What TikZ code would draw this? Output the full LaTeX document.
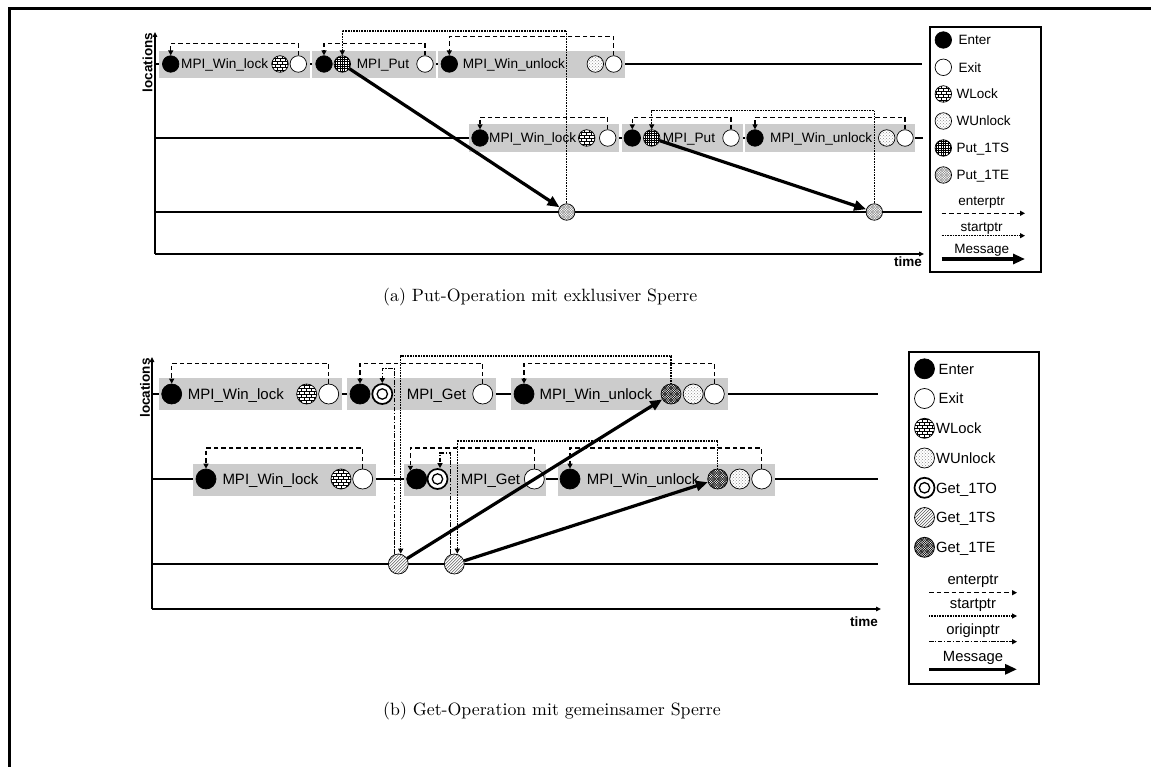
\documentclass[tikz,border=0pt]{standalone}
\usepackage{fontspec}
\usepackage{graphicx}
\setsansfont{Liberation Sans}
\usetikzlibrary{arrows.meta,patterns}
\definecolor{boxgray}{RGB}{204,204,204}

% fill patterns for the event markers, clipped to the marker circle
\newcommand\hatchBricks{%
  \begin{scope}[shift={(path picture bounding box.center)},line width=.45pt]
    \foreach \k in {-4,...,4} \draw (-13,\k*3) -- (13,\k*3);
    \foreach \k/\o in {-4/0,-3/2.5,-2/0,-1/2.5,0/0,1/2.5,2/0,3/2.5}
      \foreach \c in {-15,-10,...,15} \draw (\c+\o,\k*3) -- (\c+\o,\k*3+3);
  \end{scope}}
\newcommand\hatchGrid{%
  \begin{scope}[shift={(path picture bounding box.center)},line width=.45pt]
    \foreach \k in {-6,...,6} {\draw (\k*2.3,-13) -- (\k*2.3,13); \draw (-13,\k*2.3) -- (13,\k*2.3);}
  \end{scope}}
\newcommand\hatchMesh[3]{%
  \begin{scope}[shift={(path picture bounding box.center)},line width=#3,color=#2]
    \foreach \k in {-10,...,10} {\draw (\k*#1-14,-14) -- (\k*#1+14,14); \draw (\k*#1-14,14) -- (\k*#1+14,-14);}
  \end{scope}}
\newcommand\hatchDiag{%
  \begin{scope}[shift={(path picture bounding box.center)},line width=.5pt,color=black!65]
    \foreach \k in {-8,...,8} \draw (\k*3-14,14) -- (\k*3+14,-14);
  \end{scope}}
\newcommand\hatchDots{%
  \fill[pattern=crosshatch dots,pattern color=black!45] (path picture bounding box.south west) rectangle (path picture bounding box.north east);}

\begin{document}
\begin{tikzpicture}[x=1pt,y=-1pt,
  ev/.style={circle,draw=black,line width=.7pt,inner sep=0pt,minimum size=16.5pt,fill=white},
  evb/.style={ev,minimum size=20pt},
  enterev/.style={fill=black},
  wlockev/.style={path picture={\hatchBricks}},
  wunlockev/.style={path picture={\hatchDots}},
  putsev/.style={path picture={\hatchGrid}},
  puteev/.style={path picture={\hatchMesh{2.5}{black!50}{.35pt}}},
  getsev/.style={path picture={\hatchDiag}},
  geteev/.style={path picture={\hatchMesh{2.4}{black}{.45pt}}},
  getoev/.style={line width=1.7pt,path picture={\draw[line width=1.3pt] (path picture bounding box.center) circle[radius=5.2pt];}},
  regbox/.style={fill=boxgray,inner sep=0pt},
  txtA/.style={font=\sffamily\fontsize{13.6}{15}\selectfont,inner sep=0pt,anchor=base west},
  txtB/.style={font=\sffamily\fontsize{15}{17}\selectfont,inner sep=0pt,anchor=base west},
  legA/.style={font=\sffamily\fontsize{13.5}{15}\selectfont,inner sep=0pt,anchor=base west},
  legB/.style={font=\sffamily\fontsize{14.8}{17}\selectfont,inner sep=0pt,anchor=base west},
  axlbl/.style={font=\sffamily\bfseries\fontsize{13.5}{15}\selectfont,inner sep=0pt},
  axis/.style={line width=1.4pt,-{Triangle[length=5pt,width=4.5pt]}},
  tline/.style={line width=1.3pt},
  ptrtip/.style={-{Triangle[length=5pt,width=5pt]}},
  eptr/.style={ptrtip,line width=1.5pt,dash pattern=on 4.5pt off 3pt},
  sptr/.style={ptrtip,line width=1.1pt,dash pattern=on .9pt off .7pt},
  optr/.style={ptrtip,line width=1.5pt,dash pattern=on 4.5pt off 1.6pt on 1.2pt off 1.6pt},
  msg/.style={line width=3.2pt,-{Triangle[length=12pt,width=10pt]}},
  legframe/.style={draw=black,line width=1.3pt,inner sep=0pt},
  caption/.style={inner sep=0pt,anchor=west}
]
\useasboundingbox (0,0) rectangle (1151,767);

% page frame
\coordinate (fr1) at (9.3,767); \coordinate (fr2) at (9.3,8.7); \coordinate (fr3) at (1151,8.7);
\draw[line width=2.6pt] (fr1) -- (fr2) -- (fr3);

%%%%%%%%%%%%%%%%%%%%%%%% (a) put with exclusive lock
\coordinate (aO) at (155,254); \coordinate (aYt) at (155,32); \coordinate (aXt) at (924,254);
\draw[axis] (aO) -- (aYt);
\draw[axis] (aO) -- (aXt);
\node[axlbl,rotate=90] (aLoc) at (147.5,62.5) {locations};
\node[axlbl,anchor=base east] (aTime) at (922,267) {time};

\coordinate (aR1s) at (155,64);  \coordinate (aR1e) at (922,64);
\coordinate (aR2s) at (155,138); \coordinate (aR2e) at (923,138);
\coordinate (aR3s) at (155,212); \coordinate (aR3e) at (922,212);
\draw[tline] (aR1s) -- (aR1e);
\draw[tline] (aR2s) -- (aR2e);
\draw[tline] (aR3s) -- (aR3e);

% regions
\node[regbox,minimum width=151pt,minimum height=27pt] (aB1) at (234.5,64.5) {};
\node[regbox,minimum width=123.7pt,minimum height=27pt] (aB2) at (374.2,64.5) {};
\node[regbox,minimum width=187.3pt,minimum height=27pt] (aB3) at (531.4,64.5) {};
\node[regbox,minimum width=150pt,minimum height=28pt] (aB4) at (544.3,138.5) {};
\node[regbox,minimum width=121pt,minimum height=28pt] (aB5) at (682.2,138.5) {};
\node[regbox,minimum width=170pt,minimum height=28pt] (aB6) at (830,138.5) {};

% location 0
\node[ev,enterev] (aE1) at (170.7,64) {};
\node[txtA] (aN1) at (181,68.8) {MPI\_Win\_lock};
\node[ev,wlockev] (aL1) at (280,64) {};
\node[ev] (aX1) at (298.3,64) {};
\node[ev,enterev] (aE2) at (324,64) {};
\node[ev,putsev] (aS1) at (342.3,64) {};
\node[txtA] (aN2) at (356.7,68.8) {MPI\_Put};
\node[ev] (aX2) at (425,64) {};
\node[ev,enterev] (aE3) at (449.3,64) {};
\node[txtA] (aN3) at (462.7,68.8) {MPI\_Win\_unlock};
\node[ev,wunlockev] (aU1) at (595.3,64) {};
\node[ev] (aX3) at (613.7,64) {};

% location 1
\node[ev,enterev] (aE4) at (480,138) {};
\node[txtA] (aN4) at (489,142.8) {MPI\_Win\_lock};
\node[ev,wlockev] (aL2) at (586.7,138) {};
\node[ev] (aX4) at (607.7,138) {};
\node[ev,enterev] (aE5) at (632.3,138) {};
\node[ev,putsev] (aS2) at (651.7,138) {};
\node[txtA] (aN5) at (662.7,142.8) {MPI\_Put};
\node[ev] (aX5) at (731,138) {};
\node[ev,enterev] (aE6) at (755,138) {};
\node[txtA] (aN6) at (770,142.8) {MPI\_Win\_unlock};
\node[ev,wunlockev] (aU2) at (886.7,138) {};
\node[ev] (aX6) at (905,138) {};

% location 2 (target)
\node[ev,puteev] (aT1) at (566.7,212) {};
\node[ev,puteev] (aT2) at (874.3,212) {};

% pointer levels
\coordinate (lvA1) at (0,43.3);  \coordinate (lvA1u) at (0,36.7); \coordinate (lvA1s) at (0,31);
\coordinate (lvA2) at (0,117.3); \coordinate (lvA2s) at (0,110.7);

\draw[eptr] (aX1.north) -- (aX1.north |- lvA1) -| (aE1.north);
\draw[eptr] (aX2.north) -- (aX2.north |- lvA1) -| (aE2.north);
\draw[eptr] (aX3.north) -- (aX3.north |- lvA1u) -| (aE3.north);
\draw[sptr] (aT1.north) -- (aT1.north |- lvA1s) -| (aS1.north);
\draw[eptr] (aX4.north) -- (aX4.north |- lvA2) -| (aE4.north);
\draw[eptr] (aX5.north) -- (aX5.north |- lvA2) -| (aE5.north);
\draw[eptr] (aX6.north) -- (aX6.north |- lvA2) -| (aE6.north);
\draw[sptr] (aT2.north) -- (aT2.north |- lvA2s) -| (aS2.north);

\draw[msg] (aS1) -- (aT1);
\draw[msg] (aS2) -- (aT2);

% legend (a)
\node[legframe,minimum width=111pt,minimum height=245pt] (aKey) at (985.5,149.5) {};
\node[ev,enterev] (aKe) at (943.3,40) {};     \node[legA] (aKeT) at (958.5,44.8) {Enter};
\node[ev] (aKx) at (943.3,67.3) {};           \node[legA] (aKxT) at (958.5,72.1) {Exit};
\node[ev,wlockev] (aKl) at (943.3,94) {};     \node[legA] (aKlT) at (956.3,98.8) {WLock};
\node[ev,wunlockev] (aKu) at (943.3,121) {};  \node[legA] (aKuT) at (956.3,125.8) {WUnlock};
\node[ev,putsev] (aKs) at (943.3,148) {};     \node[legA] (aKsT) at (956.3,152.8) {Put\_1TS};
\node[ev,puteev] (aKt) at (943.3,175) {};     \node[legA] (aKtT) at (956.3,179.8) {Put\_1TE};
\node[legA,anchor=base] (aKdT) at (981.7,205.5) {enterptr};
\coordinate (aKd1) at (941.7,213.3); \coordinate (aKd2) at (1025,213.3);
\draw[eptr] (aKd1) -- (aKd2);
\node[legA,anchor=base] (aKpT) at (981.7,231.3) {startptr};
\coordinate (aKp1) at (941.7,235.7); \coordinate (aKp2) at (1025,235.7);
\draw[sptr] (aKp1) -- (aKp2);
\node[legA,anchor=base] (aKmT) at (981.7,253.5) {Message};
\coordinate (aKm1) at (941.7,259); \coordinate (aKm2) at (1025,259);
\draw[msg] (aKm1) -- (aKm2);

\node[caption] (capA) at (383,297) {\scalebox{1.78}{(a) Put-Operation mit exklusiver Sperre}};

%%%%%%%%%%%%%%%%%%%%%%%% (b) get with shared lock
\coordinate (bO) at (152,609); \coordinate (bYt) at (152,357); \coordinate (bXt) at (881,609);
\draw[axis] (bO) -- (bYt);
\draw[axis] (bO) -- (bXt);
\node[axlbl,rotate=90] (bLoc) at (145,388) {locations};
\node[axlbl,anchor=base east] (bTime) at (878,626.5) {time};

\coordinate (bR1s) at (152,394); \coordinate (bR1e) at (878,394);
\coordinate (bR2s) at (152,479); \coordinate (bR2e) at (878,479);
\coordinate (bR3s) at (152,564); \coordinate (bR3e) at (878,564);
\draw[tline] (bR1s) -- (bR1e);
\draw[tline] (bR2s) -- (bR2e);
\draw[tline] (bR3s) -- (bR3e);

\node[regbox,minimum width=182.7pt,minimum height=32pt] (bB1) at (250.3,394) {};
\node[regbox,minimum width=148.4pt,minimum height=32pt] (bB2) at (421.5,394) {};
\node[regbox,minimum width=217pt,minimum height=32pt] (bB3) at (619.2,394) {};
\node[regbox,minimum width=182.7pt,minimum height=32pt] (bB4) at (284.7,479.5) {};
\node[regbox,minimum width=141.4pt,minimum height=32pt] (bB5) at (475,479.5) {};
\node[regbox,minimum width=217.3pt,minimum height=32pt] (bB6) at (666.4,479.5) {};

% location 0
\node[evb,enterev] (bE1) at (171.7,394) {};
\node[txtB] (bN1) at (187.7,399.4) {MPI\_Win\_lock};
\node[evb,wlockev] (bL1) at (306.7,394) {};
\node[evb] (bX1) at (328.7,394) {};
\node[evb,enterev] (bE2) at (360,394) {};
\node[evb,getoev] (bO1) at (382.3,394) {};
\node[txtB] (bN2) at (406.7,399.4) {MPI\_Get};
\node[evb] (bX2) at (482.7,394) {};
\node[evb,enterev] (bE3) at (524,394) {};
\node[txtB] (bN3) at (539.3,399.4) {MPI\_Win\_unlock};
\node[evb,geteev] (bT1) at (671,394) {};
\node[evb,wunlockev] (bU1) at (693.2,394) {};
\node[evb] (bX3) at (714.3,394) {};

% location 1
\node[evb,enterev] (bE4) at (206,479) {};
\node[txtB] (bN4) at (222.3,484.4) {MPI\_Win\_lock};
\node[evb,wlockev] (bL2) at (341,479) {};
\node[evb] (bX4) at (362.7,479) {};
\node[evb,enterev] (bE5) at (416.7,479) {};
\node[evb,getoev] (bO2) at (437.5,479) {};
\node[txtB] (bN5) at (460.7,484.4) {MPI\_Get};
\node[evb] (bX5) at (534.3,479) {};
\node[evb,enterev] (bE6) at (570,479) {};
\node[txtB] (bN6) at (586.7,484.4) {MPI\_Win\_unlock};
\node[evb,geteev] (bT2) at (717.7,479) {};
\node[evb,wunlockev] (bU2) at (739.7,479) {};
\node[evb] (bX6) at (761.7,479) {};

% location 2 (origin side)
\node[evb,getsev] (bS1) at (398.3,564) {};
\node[evb,getsev] (bS2) at (454.3,564) {};

\coordinate (lvB1) at (0,363.3); \coordinate (lvB1s) at (0,356); \coordinate (lvB1o) at (0,368.5);
\coordinate (lvB2) at (0,448);   \coordinate (lvB2s) at (0,441); \coordinate (lvB2o) at (0,453);

\draw[eptr] (bX1.north) -- (bX1.north |- lvB1) -| (bE1.north);
\draw[eptr] (bX2.north) -- (bX2.north |- lvB1) -| (bE2.north);
\draw[eptr] (bX3.north) -- (bX3.north |- lvB1) -| (bE3.north);
\draw[sptr] (bT1.north) -- (bT1.north |- lvB1s) -| ([xshift=2.4pt]bS1.north);
\draw[optr] ([xshift=-3.8pt]bS1.north) -- ([xshift=-3.8pt]bS1.north |- lvB1o) -| (bO1.north);

\draw[eptr] (bX4.north) -- (bX4.north |- lvB2) -| (bE4.north);
\draw[eptr] (bX5.north) -- (bX5.north |- lvB2) -| ([xshift=-6.3pt,yshift=-2.2pt]bE5.north);
\draw[eptr] (bX6.north) -- (bX6.north |- lvB2) -| (bE6.north);
\draw[sptr] (bT2.north) -- (bT2.north |- lvB2s) -| ([xshift=3pt]bS2.north);
\draw[optr] ([xshift=-3.8pt]bS2.north) -- ([xshift=-3.8pt]bS2.north |- lvB2o) -| ([xshift=2.5pt]bO2.north);

\draw[msg] (bS1) -- (bT1);
\draw[msg] (bS2) -- (bT2);

% legend (b)
\node[legframe,minimum width=130pt,minimum height=332pt] (bKey) at (974,518) {};
\node[evb,enterev] (bKe) at (924.5,368.8) {};    \node[legB] (bKeT) at (938.5,374.1) {Enter};
\node[evb] (bKx) at (924.5,398.5) {};            \node[legB] (bKxT) at (938.5,403.8) {Exit};
\node[evb,wlockev] (bKl) at (924.5,428.3) {};    \node[legB] (bKlT) at (936,433.6) {WLock};
\node[evb,wunlockev] (bKu) at (924.5,458) {};    \node[legB] (bKuT) at (936,463.3) {WUnlock};
\node[evb,getoev] (bKo) at (924.5,487.8) {};     \node[legB] (bKoT) at (936,493.1) {Get\_1TO};
\node[evb,getsev] (bKs) at (924.5,517.5) {};     \node[legB] (bKsT) at (936,522.8) {Get\_1TS};
\node[evb,geteev] (bKt) at (924.5,547.3) {};     \node[legB] (bKtT) at (936,552.6) {Get\_1TE};
\node[legB,anchor=base] (bKdT) at (973,584.5) {enterptr};
\coordinate (bKd1) at (929,592.7); \coordinate (bKd2) at (1017,592.7);
\draw[eptr] (bKd1) -- (bKd2);
\node[legB,anchor=base] (bKpT) at (973,608.5) {startptr};
\coordinate (bKp1) at (929,616); \coordinate (bKp2) at (1017,616);
\draw[sptr] (bKp1) -- (bKp2);
\node[legB,anchor=base] (bKoT2) at (973,634) {originptr};
\coordinate (bKo1) at (929,641.7); \coordinate (bKo2) at (1017,641.7);
\draw[optr] (bKo1) -- (bKo2);
\node[legB,anchor=base] (bKmT) at (973,661.5) {Message};
\coordinate (bKm1) at (929,669.3); \coordinate (bKm2) at (1017,669.3);
\draw[msg] (bKm1) -- (bKm2);

\node[caption] (capB) at (383,711) {\scalebox{1.78}{(b) Get-Operation mit gemeinsamer Sperre}};
\end{tikzpicture}
\end{document}
